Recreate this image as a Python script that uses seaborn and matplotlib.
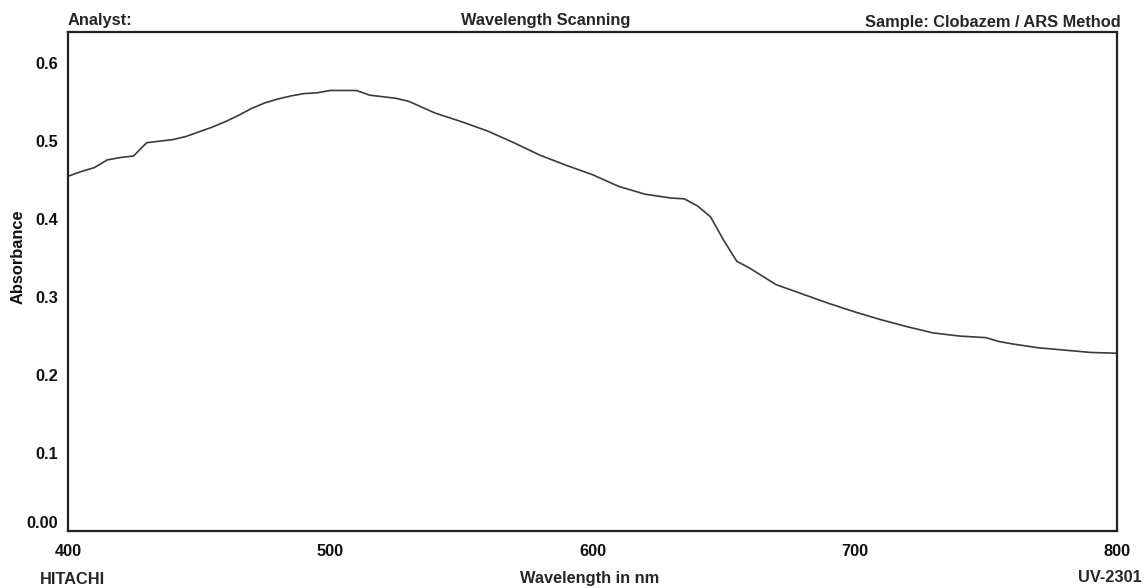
import matplotlib
matplotlib.use("Agg")
import matplotlib.pyplot as plt
import seaborn as sns
import pandas as pd
from matplotlib.ticker import FuncFormatter

wavelength = [400, 405, 410, 415, 420, 425, 430, 435, 440, 445, 450, 455, 460, 465,
              470, 475, 480, 485, 490, 495, 500, 505, 510, 515, 520, 525, 530, 540,
              550, 560, 570, 580, 590, 600, 610, 620, 630, 635, 640, 645, 650, 655,
              660, 670, 680, 690, 700, 710, 720, 730, 740, 750, 755, 760, 770, 780,
              790, 800]
absorbance = [0.455, 0.461, 0.466, 0.476, 0.479, 0.481, 0.498, 0.500, 0.502, 0.506,
              0.512, 0.518, 0.525, 0.533, 0.542, 0.549, 0.554, 0.558, 0.561, 0.562,
              0.565, 0.565, 0.565, 0.559, 0.557, 0.555, 0.551, 0.536, 0.525, 0.513,
              0.498, 0.482, 0.469, 0.457, 0.442, 0.432, 0.427, 0.426, 0.417, 0.403,
              0.373, 0.346, 0.337, 0.316, 0.304, 0.292, 0.281, 0.271, 0.262, 0.254,
              0.250, 0.248, 0.243, 0.240, 0.235, 0.232, 0.229, 0.228]
x_ticks = [400, 500, 600, 700, 800]
y_ticks = [0.0, 0.1, 0.2, 0.3, 0.4, 0.5, 0.6]

sns.set_style("white")
plt.rcParams['font.family'] = ['Liberation Sans', 'DejaVu Sans']
plt.rcParams['font.weight'] = 'bold'

df = pd.DataFrame({"Wavelength": wavelength, "Absorbance": absorbance})

fig = plt.figure(figsize=(11.44, 5.88), dpi=100)
ax = fig.add_axes([68/1144, 57/588, (1117-68)/1144, (531-32)/588])
sns.lineplot(data=df, x="Wavelength", y="Absorbance", ax=ax, color="#3a3a3a", lw=1.2)

fs = 11.8
ax.set_xlim(400, 800)
ax.set_ylim(0, 0.64)
ax.set_xticks(x_ticks)
ax.set_yticks(y_ticks)
ax.yaxis.set_major_formatter(FuncFormatter(lambda v, p: "0.00" if abs(v) < 1e-9 else f"{v:.1f}"))
ax.tick_params(axis="both", length=0, labelsize=fs, colors="#111111")
ax.tick_params(axis="x", pad=9)
ax.tick_params(axis="y", pad=7)
for lbl in ax.get_yticklabels():
    if lbl.get_text() == "0.00":
        lbl.set_verticalalignment("bottom")
for s in ax.spines.values():
    s.set_visible(True)
    s.set_color("#222222")
    s.set_linewidth(1.6)

ax.set_xlabel("")
ax.set_ylabel("Absorbance", fontsize=fs, fontweight="bold", color="#111111")
ax.yaxis.set_label_coords(-42/1049, 0.55)

fig.text(68/1144, 1 - 21/588, "Analyst:", ha="left", va="center", fontsize=fs, fontweight="bold")
fig.text(546/1144, 1 - 21/588, "Wavelength Scanning", ha="center", va="center", fontsize=fs, fontweight="bold")
fig.text(1121/1144, 1 - 22/588, "Sample: Clobazem / ARS Method", ha="right", va="center", fontsize=fs, fontweight="bold")
fig.text(40/1144, 1 - 579/588, "HITACHI", ha="left", va="center", fontsize=fs, fontweight="bold")
fig.text(590/1144, 1 - 579/588, "Wavelength in nm", ha="center", va="center", fontsize=fs, fontweight="bold")
fig.text(1142/1144, 1 - 577/588, "UV-2301", ha="right", va="center", fontsize=fs, fontweight="bold")

fig.savefig("out.png", dpi=100, facecolor="white")
